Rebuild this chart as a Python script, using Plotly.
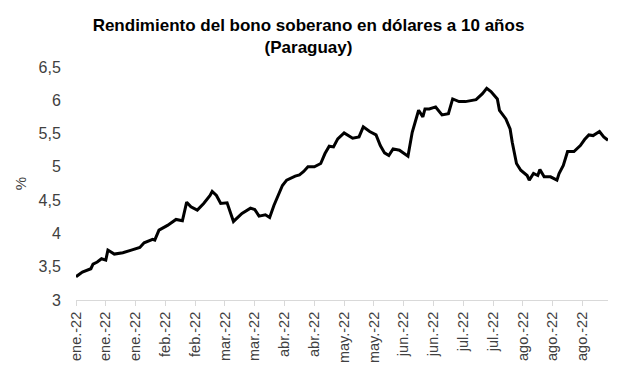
import plotly.graph_objects as go

dates = [
    "2022-01-03", "2022-01-06", "2022-01-10", "2022-01-11", "2022-01-13", "2022-01-15",
    "2022-01-17", "2022-01-18", "2022-01-21", "2022-01-25", "2022-01-29", "2022-02-02",
    "2022-02-04", "2022-02-08", "2022-02-09", "2022-02-11", "2022-02-15", "2022-02-17",
    "2022-02-19", "2022-02-22", "2022-02-24", "2022-02-26", "2022-03-01", "2022-03-04",
    "2022-03-07", "2022-03-08", "2022-03-10", "2022-03-12", "2022-03-15", "2022-03-18",
    "2022-03-22", "2022-03-26", "2022-03-28", "2022-03-30", "2022-04-02", "2022-04-04",
    "2022-04-06", "2022-04-10", "2022-04-12", "2022-04-16", "2022-04-18", "2022-04-20",
    "2022-04-22", "2022-04-25", "2022-04-28", "2022-04-30", "2022-05-02", "2022-05-04",
    "2022-05-06", "2022-05-09", "2022-05-13", "2022-05-16", "2022-05-18", "2022-05-21",
    "2022-05-24", "2022-05-26", "2022-05-28", "2022-05-30", "2022-06-01", "2022-06-04",
    "2022-06-06", "2022-06-08", "2022-06-10", "2022-06-13", "2022-06-15", "2022-06-16",
    "2022-06-18", "2022-06-21", "2022-06-24", "2022-06-27", "2022-06-29", "2022-07-02",
    "2022-07-05", "2022-07-07", "2022-07-10", "2022-07-13", "2022-07-15", "2022-07-17",
    "2022-07-20", "2022-07-21", "2022-07-24", "2022-07-26", "2022-07-27", "2022-07-29",
    "2022-07-31", "2022-08-03", "2022-08-04", "2022-08-06", "2022-08-08", "2022-08-09",
    "2022-08-11", "2022-08-14", "2022-08-17", "2022-08-18", "2022-08-20", "2022-08-22",
    "2022-08-25", "2022-08-28", "2022-08-30", "2022-09-01", "2022-09-03", "2022-09-06",
    "2022-09-08", "2022-09-10",
]

yields = [
    3.35, 3.42, 3.47, 3.54, 3.57, 3.62,
    3.60, 3.75, 3.69, 3.71, 3.75, 3.79,
    3.86, 3.91, 3.90, 4.05, 4.12, 4.16,
    4.21, 4.19, 4.47, 4.40, 4.35, 4.45,
    4.57, 4.63, 4.57, 4.45, 4.46, 4.18,
    4.30, 4.38, 4.36, 4.26, 4.28, 4.24,
    4.42, 4.72, 4.80, 4.86, 4.88, 4.93,
    5.00, 5.00, 5.05, 5.20, 5.31, 5.30,
    5.42, 5.51, 5.43, 5.45, 5.60, 5.53,
    5.48, 5.32, 5.21, 5.17, 5.27, 5.25,
    5.21, 5.16, 5.52, 5.85, 5.75, 5.87,
    5.87, 5.90, 5.78, 5.80, 6.02, 5.98,
    5.98, 5.99, 6.01, 6.10, 6.18, 6.13,
    6.02, 5.85, 5.72, 5.57, 5.37, 5.05,
    4.95, 4.87, 4.80, 4.90, 4.87, 4.96,
    4.85, 4.85, 4.80, 4.90, 5.02, 5.23,
    5.23, 5.32, 5.41, 5.48, 5.47, 5.53,
    5.45, 5.40,
]

tick_dates = [
    "2022-01-03", "2022-01-17", "2022-01-31", "2022-02-14", "2022-02-28", "2022-03-14",
    "2022-03-28", "2022-04-11", "2022-04-25", "2022-05-09", "2022-05-23", "2022-06-06",
    "2022-06-20", "2022-07-04", "2022-07-18", "2022-08-01", "2022-08-15", "2022-08-29",
]
tick_labels = [
    "ene.-22", "ene.-22", "ene.-22", "feb.-22", "feb.-22", "mar.-22",
    "mar.-22", "abr.-22", "abr.-22", "may.-22", "may.-22", "jun.-22",
    "jun.-22", "jul.-22", "jul.-22", "ago.-22", "ago.-22", "ago.-22",
]

FONT = "Liberation Sans, Arial, sans-serif"

fig = go.Figure()
fig.add_trace(go.Scatter(
    x=dates, y=yields, mode="lines",
    line=dict(color="#000000", width=3),
    showlegend=False, hoverinfo="skip",
))

fig.update_layout(
    width=617, height=373,
    margin=dict(l=76, r=9, t=67, b=73),
    paper_bgcolor="white", plot_bgcolor="white",
    separators=",.",
    font=dict(family=FONT, color="#404040"),
    title=dict(
        text="<b>Rendimiento del bono soberano en dólares a 10 años<br>(Paraguay)</b>",
        x=0.5, xref="container", xanchor="center",
        y=0.918, yref="container", yanchor="top",
        font=dict(family=FONT, size=17, color="#000000"),
    ),
    xaxis=dict(
        type="date",
        range=["2022-01-03", "2022-09-10"],
        tickmode="array", tickvals=tick_dates, ticktext=tick_labels,
        tickangle=-90,
        tickfont=dict(family=FONT, size=14.5, color="#404040"),
        showgrid=False, zeroline=False,
        showline=True, linecolor="#d9d9d9", linewidth=1,
        ticks="outside", ticklen=5, tickcolor="#d9d9d9",
    ),
    yaxis=dict(
        range=[3, 6.5], dtick=0.5, tick0=3,
        tickfont=dict(family=FONT, size=16, color="#404040"),
        showgrid=False, zeroline=False, showline=False,
        ticks="outside", ticklen=11, tickcolor="rgba(0,0,0,0)",
        title=dict(text="%", font=dict(family=FONT, size=15, color="#404040"), standoff=8),
    ),
)

fig.write_html("out.html")
